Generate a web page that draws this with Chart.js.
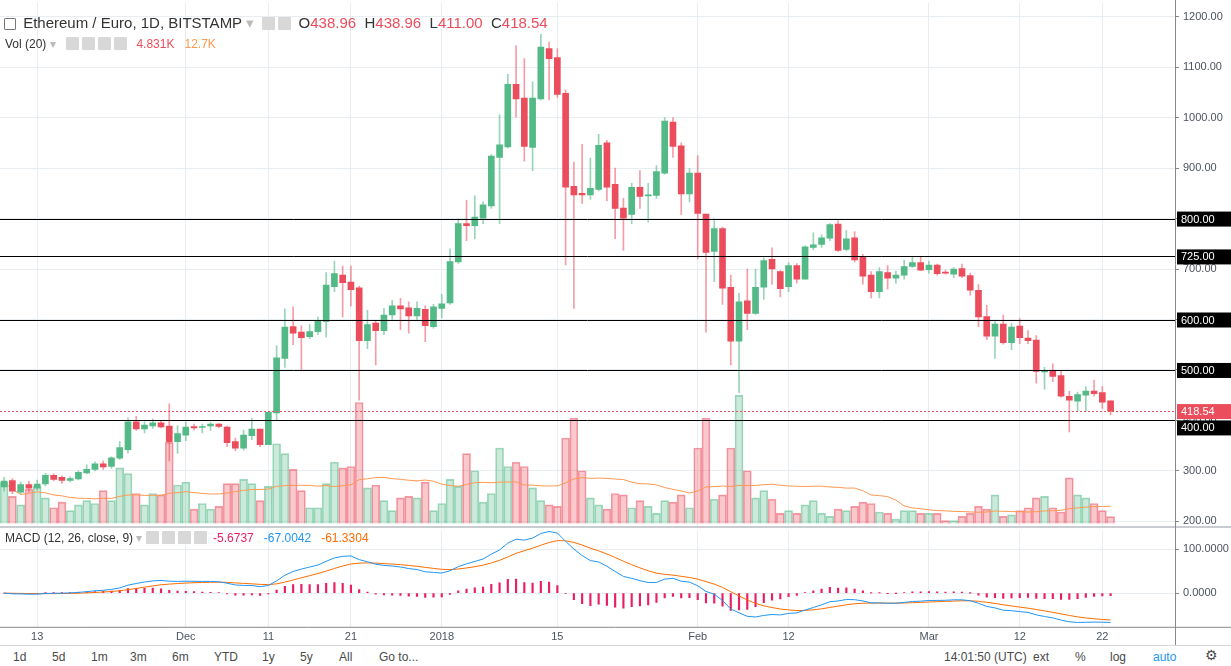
<!DOCTYPE html>
<html><head><meta charset="utf-8">
<script src="https://cdn.jsdelivr.net/npm/chart.js@4.4.1/dist/chart.umd.min.js"></script>
<style>
body{margin:0;width:1231px;height:666px;overflow:hidden;background:#fff;font-family:"Liberation Sans",Arial,sans-serif;position:relative}
canvas{position:absolute;left:0}
#c1{top:-8px}
#c2{top:520px}
.t{position:absolute;white-space:nowrap;color:#333}
.ic{display:inline-block;width:13px;height:13px;background:#d8d8d8;margin-right:3px;vertical-align:-2px;border-radius:1px}
#sep{position:absolute;left:0;top:526px;width:1231px;height:2px;background:#c9ccd1}
#bar{position:absolute;left:0;top:645px;width:1231px;height:21px;border-top:1px solid #d6d8dc;font-size:12px;color:#4a4a4a;background:#fff}
#bar span{position:absolute;top:4px}
.r{color:#eb4d5c}
</style></head><body>
<canvas id="c1" width="1231" height="545"></canvas>
<div id="sep"></div>
<canvas id="c2" width="1231" height="128"></canvas>

<div class="t" style="left:4px;top:14px;font-size:15px"><span class="ic" style="background:#fff;border:1px solid #777;width:10px;height:10px"></span> Ethereum / Euro, 1D, BITSTAMP <span style="color:#bbb">▾</span> &nbsp;<span class="ic"></span><span class="ic"></span> <span>O</span><span class="r">438.96</span> &nbsp;<span>H</span><span class="r">438.96</span> &nbsp;<span>L</span><span class="r">411.00</span> &nbsp;<span>C</span><span class="r">418.54</span></div>
<div class="t" style="left:5px;top:37px;font-size:12px">Vol (20) <span style="color:#bbb">▾</span> &nbsp; <span class="ic"></span><span class="ic"></span><span class="ic"></span><span class="ic"></span> &nbsp;<span class="r">4.831K</span> &nbsp; <span style="color:#ff9850">12.7K</span></div>
<div class="t" style="left:5px;top:531px;font-size:12px">MACD (12, 26, close, 9) <span style="color:#bbb">▾</span> <span class="ic"></span><span class="ic"></span><span class="ic"></span><span class="ic"></span> <span style="color:#e91e63">-5.6737</span> &nbsp; <span style="color:#2196f3">-67.0042</span> &nbsp; <span style="color:#ff6d00">-61.3304</span></div>

<div id="bar">
<span style="left:13px">1d</span><span style="left:52px">5d</span><span style="left:91px">1m</span><span style="left:130px">3m</span><span style="left:172px">6m</span><span style="left:214px">YTD</span><span style="left:262px">1y</span><span style="left:300px">5y</span><span style="left:339px">All</span><span style="left:379px">Go to...</span>
<span style="left:944px">14:01:50 (UTC)</span><span style="left:1033px">ext</span><span style="left:1075px">%</span><span style="left:1110px">log</span><span style="left:1153px;color:#2196f3">auto</span><span style="left:1205px;font-size:14px;top:1px">⚙</span>
</div>

<script>
const opens=[268,281,258,273,266,274,291,287,281,284,296,303,314,309,325,342,397,383,389,395,389,358,371,388,386,389,393,387,358,345,370,383,352,415,523,586,575,566,576,596,665,688,674,663,558,593,578,609,627,623,607,620,586,622,633,714,790,786,801,825,921,942,1066,1039,941,1037,1137,1119,1048,864,850,847,858,950,868,821,808,862,845,846,890,991,944,849,890,809,735,780,664,557,637,612,664,719,695,665,707,680,743,749,761,789,739,762,723,688,655,693,682,688,705,713,699,708,694,690,701,687,658,606,567,591,554,587,563,559,496,499,489,448,438,450,458,455,438.96];
const highs=[287,285,278,280,282,295,294,290,288,300,312,318,320,328,358,405,408,397,403,398,433,390,397,393,393,396,394,389,365,381,404,383,416,548,621,625,588,590,605,693,716,706,706,666,618,597,622,638,642,635,635,627,630,650,740,800,836,845,833,927,1006,1086,1143,1117,1071,1165,1150,1137,1055,912,947,920,967,955,900,840,870,895,870,905,1000,1000,950,899,925,809,800,783,688,652,700,700,722,742,697,713,711,746,772,768,790,796,776,774,729,695,703,707,696,718,725,725,716,710,698,703,710,692,669,628,596,609,592,602,578,568,505,512,498,458,456,467,480,467,438.96];
const lows=[260,255,255,258,262,270,280,275,278,282,294,300,303,305,322,335,380,375,384,385,320,335,360,381,375,380,385,348,340,341,362,348,352,400,505,550,498,562,570,565,655,605,627,440,542,510,570,600,580,573,598,556,583,603,630,711,756,760,790,820,790,940,1001,914,895,1035,1035,1040,708,622,830,838,855,835,760,737,790,820,793,840,888,921,808,833,720,575,675,630,510,455,580,610,640,670,645,655,672,680,738,743,756,735,736,714,670,643,643,660,672,680,703,697,692,688,690,683,683,648,586,560,523,551,540,552,552,474,462,477,446,377,418,418,448,424,411];
const closes=[280,260,273,266,274,291,283,281,285,297,303,314,308,326,346,397,383,391,395,387,358,374,387,385,388,393,388,356,345,371,383,352,416,524,585,573,564,576,597,668,691,673,659,558,590,578,609,627,621,607,622,588,625,631,715,790,786,803,827,924,946,1066,1037,943,1039,1140,1117,1046,862,847,847,860,945,862,820,801,862,844,847,893,993,943,849,890,810,733,780,662,557,635,612,664,717,700,661,707,680,744,748,762,788,737,760,718,686,655,695,682,688,705,713,698,708,691,692,700,686,658,605,567,591,554,585,564,558,497,499,487,448,440,451,458,453,436,418.54];
const volumes=[29,19,13,24,26,18,11,15,9,13,16,14,23,16,39,35,21,13,21,20,57,27,29,10,14,10,12,28,28,31,28,16,26,56,49,38,23,
11,11,28,43,39,40,85,25,27,16,9,18,19,18,29,9,14,31,26,49,37,15,21,53,40,43,40,25,16,13,12,60,74,37,18,
13,10,21,20,11,16,12,7,16,15,20,11,53,74,17,20,53,90,37,18,23,17,7,9,7,13,16,7,5,10,9,12,15,14,8,
7,3,9,9,7,7,7,2,2,5,7,12,10,20,5,6,9,11,18,19,11,8,32,20,18,14,9,4.8];
const xTickDays=[4,22,32,42,53,67,84,95,112,123,133];
const xTickLabels=['13','Dec','11','21','2018','15','Feb','12','Mar','12','22'];
const priceTicks=[200,300,400,500,600,700,800,900,1000,1100,1200];
const levelLines=[800,725,600,500,400];
const lastPrice=418.54;
const macdTicks=[0,100];

const N=closes.length, idx=[...Array(N).keys()];
const G='#53b987',R='#eb4d5c';
const up=idx.map(i=>closes[i]>=opens[i]);
function ema(a,n){const k=2/(n+1);const o=[a[0]];for(let i=1;i<a.length;i++)o.push(a[i]*k+o[i-1]*(1-k));return o;}
function sma(a,n){return a.map((v,i)=>{const s=a.slice(Math.max(0,i-n+1),i+1);return s.reduce((p,q)=>p+q,0)/s.length;});}
const e12=ema(closes,12),e26=ema(closes,26);
const macd=idx.map(i=>e12[i]-e26[i]);
const sig=ema(macd,9);
const hist=idx.map(i=>macd[i]-sig[i]);
const volMA=sma(volumes,20);

const XMIN=-0.5,XMAX=141.8,GRID='#e8edf1',TXT='#4c525e';
const fixW={afterFit:s=>{s.width=56;}};
function xScale(show){return {type:'linear',min:XMIN,max:XMAX,offset:false,
 afterBuildTicks:s=>{s.ticks=xTickDays.map(v=>({value:v}));},
 ticks:{display:show,autoSkip:false,maxRotation:0,color:TXT,font:{size:11},padding:4,callback:(v)=>xTickLabels[xTickDays.indexOf(v)]},
 grid:{color:GRID,drawTicks:false,offset:false},border:{display:false}};}

const levels={id:'levels',
 afterDatasetsDraw(c){const ctx=c.ctx,y=c.scales.y,a=c.chartArea;ctx.save();
  ctx.strokeStyle='#000';ctx.lineWidth=1;
  levelLines.forEach(v=>{const p=Math.round(y.getPixelForValue(v))+0.5;ctx.beginPath();ctx.moveTo(a.left,p);ctx.lineTo(a.right,p);ctx.stroke();});
  ctx.strokeStyle=R;ctx.setLineDash([2,2]);const p=Math.round(y.getPixelForValue(lastPrice))+0.5;ctx.beginPath();ctx.moveTo(a.left,p);ctx.lineTo(a.right,p);ctx.stroke();
  ctx.restore();},
 afterDraw(c){const ctx=c.ctx,y=c.scales.y,a=c.chartArea;ctx.save();ctx.font='11px "Liberation Sans",Arial';ctx.textBaseline='middle';
  const box=(v,bg,off)=>{const p=y.getPixelForValue(v)+(off||0);ctx.fillStyle=bg;ctx.fillRect(a.right+2,p-7,54,15);ctx.fillStyle='#fff';ctx.fillText(v.toFixed(2),a.right+6,p+1);};
  levelLines.forEach(v=>box(v,'#000',v===400?7:0));box(lastPrice,R);
  ctx.strokeStyle='#888';ctx.beginPath();ctx.moveTo(a.right+0.5,0);ctx.lineTo(a.right+0.5,c.height);ctx.stroke();ctx.restore();}};

new Chart(document.getElementById('c1'),{
 data:{datasets:[
  {type:'bar',order:1,grouped:false,data:idx.map(i=>({x:i,y:[opens[i],closes[i]]})),backgroundColor:idx.map(i=>up[i]?G:R),barThickness:6,minBarLength:1,yAxisID:'y'},
  {type:'bar',order:2,grouped:false,data:idx.map(i=>({x:i,y:[lows[i],highs[i]]})),backgroundColor:idx.map(i=>up[i]?'rgba(83,185,135,0.6)':'rgba(235,77,92,0.55)'),barThickness:1,yAxisID:'y'},
  {type:'line',order:9,data:idx.map(i=>({x:i,y:volMA[i]})),borderColor:'#ff9850',borderWidth:1,pointRadius:0,yAxisID:'v'},
  {type:'bar',order:10,grouped:false,data:idx.map(i=>({x:i,y:volumes[i]})),backgroundColor:idx.map(i=>up[i]?'rgba(83,185,135,0.3)':'rgba(235,77,92,0.3)'),borderColor:idx.map(i=>up[i]?'rgba(83,185,135,0.55)':'rgba(235,77,92,0.55)'),borderWidth:1,barThickness:8,yAxisID:'v'}
 ]},
 options:{responsive:false,animation:false,events:[],layout:{padding:{top:0,bottom:1}},plugins:{legend:{display:false},tooltip:{enabled:false}},
  scales:{x:xScale(false),
   y:Object.assign({position:'right',min:190,max:1228,afterBuildTicks:s=>{s.ticks=priceTicks.map(v=>({value:v}));},
     ticks:{color:TXT,font:{size:11},padding:4,callback:v=>v.toFixed(2)},grid:{color:GRID,tickLength:4,tickColor:'#888'},border:{display:false}},fixW),
   v:{display:false,min:-2.1,max:366}}},
 plugins:[levels]});

new Chart(document.getElementById('c2'),{
 data:{datasets:[
  {type:'line',order:1,data:idx.map(i=>({x:i,y:macd[i]})),borderColor:'#2196f3',borderWidth:1,pointRadius:0},
  {type:'line',order:2,data:idx.map(i=>({x:i,y:sig[i]})),borderColor:'#ff6d00',borderWidth:1,pointRadius:0},
  {type:'bar',order:3,grouped:false,data:idx.map(i=>({x:i,y:hist[i]})),backgroundColor:'#e91e63',barThickness:1.5}
 ]},
 options:{responsive:false,animation:false,events:[],plugins:{legend:{display:false},tooltip:{enabled:false}},
  scales:{x:xScale(true),
   y:Object.assign({position:'right',min:-77,max:143,afterBuildTicks:s=>{s.ticks=macdTicks.map(v=>({value:v}));},
     ticks:{color:TXT,font:{size:11},padding:4,callback:v=>v.toFixed(4)},grid:{color:GRID,tickLength:4,tickColor:'#888'},border:{display:false}},fixW)}},
 plugins:[{id:'ax',afterDraw(c){const ctx=c.ctx,a=c.chartArea;ctx.save();ctx.strokeStyle='#888';ctx.beginPath();ctx.moveTo(a.right+0.5,0);ctx.lineTo(a.right+0.5,c.height);ctx.moveTo(0,a.bottom+0.5);ctx.lineTo(c.width,a.bottom+0.5);ctx.stroke();ctx.restore();}}]});
</script>
</body></html>
